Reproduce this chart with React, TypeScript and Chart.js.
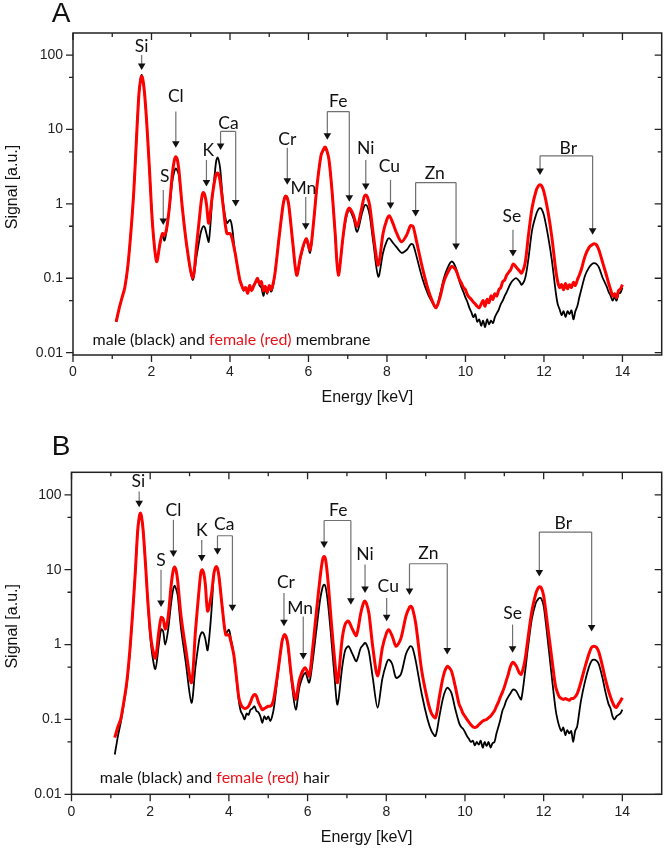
import React, { useEffect, useRef } from 'react';
import { Chart, registerables } from 'chart.js';

Chart.register(...registerables);

// ---------- data (energy grid in keV, signal in a.u.) ----------
const energies = [
  1.10, 1.18, 1.25, 1.32, 1.40, 1.48, 1.55, 1.62, 1.68, 1.72,
  1.75, 1.78, 1.82, 1.88, 1.95, 2.03, 2.13, 2.22, 2.28, 2.33,
  2.38, 2.45, 2.53, 2.58, 2.62, 2.66, 2.70, 2.78, 2.90, 3.05,
  3.15, 3.25, 3.29, 3.32, 3.36, 3.40, 3.46, 3.55, 3.62, 3.65,
  3.68, 3.71, 3.75, 3.83, 3.92, 4.00, 4.05, 4.13,
  4.25, 4.30, 4.35, 4.40, 4.45, 4.50, 4.55, 4.60, 4.65, 4.70,
  4.75, 4.80, 4.85, 4.90, 4.95, 5.00, 5.05, 5.10, 5.15,
  5.25, 5.35, 5.39, 5.42, 5.46, 5.50, 5.60, 5.70, 5.80,
  5.94, 6.04, 6.12, 6.22, 6.32, 6.38, 6.42, 6.46, 6.52, 6.60, 6.68, 6.76,
  6.88, 6.96, 7.04, 7.14, 7.24, 7.35, 7.42, 7.46, 7.50, 7.56, 7.66, 7.78,
  7.90, 8.00, 8.06, 8.15, 8.25, 8.37, 8.50, 8.59, 8.63, 8.67, 8.75, 8.90,
  9.05, 9.15, 9.25, 9.35, 9.45, 9.55, 9.65, 9.75,
  9.85, 9.90, 9.95, 10.00, 10.05, 10.10, 10.15, 10.20, 10.25, 10.30,
  10.35, 10.40, 10.45, 10.50, 10.55, 10.60, 10.65, 10.70, 10.75, 10.80,
  10.85, 10.90, 10.95, 11.00, 11.05, 11.10,
  11.15, 11.22, 11.30, 11.38, 11.43, 11.52, 11.60, 11.70, 11.80, 11.86, 11.90, 11.94, 12.00, 12.10, 12.20,
  12.30, 12.35, 12.40, 12.45, 12.50, 12.55, 12.60, 12.65, 12.70, 12.75, 12.80, 12.85, 12.90, 12.95,
  13.05, 13.15, 13.22, 13.28, 13.34, 13.40,
  13.50, 13.55, 13.60, 13.65, 13.70, 13.75, 13.80, 13.85, 13.90, 13.95, 14.00,
];

const membraneFemale = [
  0.026, 0.04, 0.055, 0.075, 0.15, 0.45, 1.5, 8, 30, 46,
  52, 47, 32, 12, 2.8, 0.5, 0.168, 0.3, 0.40, 0.38,
  0.45, 0.85, 2.5, 3.8, 4.3, 3.9, 2.8, 0.95, 0.27, 0.10,
  0.28, 0.9, 1.3, 1.42, 1.3, 1.0, 0.55, 1.3, 2.2, 2.5,
  2.6, 2.5, 2.0, 0.9, 0.4, 0.40, 0.35, 0.22,
  0.095, 0.08, 0.07, 0.075, 0.063, 0.08, 0.068, 0.078, 0.088, 0.1,
  0.085, 0.09, 0.068, 0.078, 0.065, 0.08, 0.07, 0.085, 0.12,
  0.35, 0.95, 1.2, 1.28, 1.2, 0.95, 0.3, 0.11, 0.2,
  0.34, 0.24, 0.5, 1.8, 4.5, 5.4, 5.8, 5.4, 4.0, 1.5, 0.4, 0.11,
  0.36, 0.7, 0.88, 0.72, 0.50, 0.85, 1.25, 1.32, 1.25, 0.95, 0.36, 0.15,
  0.4, 0.62, 0.69, 0.55, 0.4, 0.31, 0.38, 0.5, 0.51, 0.49, 0.32, 0.14,
  0.07, 0.05, 0.040, 0.055, 0.09, 0.12, 0.144, 0.13,
  0.095, 0.085, 0.075, 0.07, 0.06, 0.055, 0.052, 0.048, 0.045, 0.042,
  0.04, 0.045, 0.05, 0.042, 0.052, 0.047, 0.058, 0.052, 0.062, 0.058,
  0.07, 0.075, 0.09, 0.095, 0.11, 0.12,
  0.13, 0.156, 0.14, 0.125, 0.117, 0.16, 0.36, 0.9, 1.5, 1.75, 1.8, 1.75, 1.45, 0.8, 0.36,
  0.13, 0.09, 0.075, 0.082, 0.07, 0.085, 0.072, 0.082, 0.075, 0.088, 0.08, 0.095, 0.11, 0.13,
  0.2, 0.26, 0.28, 0.29, 0.28, 0.24,
  0.16, 0.13, 0.106, 0.085, 0.07, 0.058, 0.062, 0.055, 0.068, 0.072, 0.082,
];

const membraneMale = [
  0.026, 0.04, 0.055, 0.075, 0.15, 0.45, 1.5, 8, 30, 47,
  54, 48, 32, 12, 2.8, 0.5, 0.17, 0.3, 0.38, 0.32,
  0.42, 0.8, 2.0, 2.7, 3.0, 2.8, 2.4, 0.95, 0.27, 0.095,
  0.2, 0.4, 0.47, 0.50, 0.48, 0.40, 0.31, 1.2, 2.8, 3.8,
  4.2, 3.9, 3.0, 1.0, 0.55, 0.61, 0.5, 0.22,
  0.095, 0.078, 0.068, 0.072, 0.065, 0.076, 0.07, 0.08, 0.09, 0.098,
  0.08, 0.075, 0.058, 0.072, 0.062, 0.076, 0.066, 0.08, 0.12,
  0.35, 0.95, 1.2, 1.28, 1.2, 0.95, 0.3, 0.11, 0.19,
  0.33, 0.22, 0.5, 1.8, 4.5, 5.2, 5.6, 5.2, 4.0, 1.5, 0.4, 0.11,
  0.35, 0.65, 0.82, 0.65, 0.42, 0.7, 0.93, 0.97, 0.92, 0.7, 0.28, 0.105,
  0.22, 0.32, 0.345, 0.30, 0.26, 0.22, 0.24, 0.28, 0.29, 0.28, 0.2, 0.1,
  0.06, 0.048, 0.04, 0.06, 0.1, 0.14, 0.168, 0.14,
  0.09, 0.075, 0.065, 0.055, 0.048, 0.04, 0.035, 0.03, 0.033, 0.026,
  0.028, 0.023, 0.027, 0.022, 0.028, 0.024, 0.027, 0.025, 0.03, 0.034,
  0.038, 0.045, 0.05, 0.058, 0.065, 0.075,
  0.085, 0.095, 0.1, 0.09, 0.082, 0.1, 0.177, 0.45, 0.72, 0.85, 0.875, 0.85, 0.7, 0.38, 0.177,
  0.065, 0.045, 0.038, 0.032, 0.036, 0.03, 0.036, 0.033, 0.037, 0.028, 0.036, 0.042, 0.055, 0.07,
  0.11, 0.14, 0.155, 0.16, 0.155, 0.14,
  0.1, 0.088, 0.077, 0.065, 0.058, 0.05, 0.056, 0.05, 0.062, 0.064, 0.075,
];

const hairFemale = [
  0.057, 0.08, 0.1, 0.16, 0.3, 0.8, 2.5, 9, 32, 50,
  57, 51, 34, 12, 3.2, 1.1, 0.66, 1.5, 2.3, 2.2,
  1.6, 2.2, 6, 9.5, 10.9, 9.7, 7, 2.5, 0.9, 0.31,
  1.5, 6, 9.3, 10, 9, 6.5, 2.8, 4.5, 9, 10.4,
  11, 10.4, 8, 3.2, 1.35, 1.35, 1.1, 0.7,
  0.2, 0.16, 0.145, 0.14, 0.142, 0.15, 0.17, 0.2, 0.215, 0.205,
  0.17, 0.15, 0.135, 0.14, 0.145, 0.15, 0.15, 0.16, 0.2,
  0.45, 1.1, 1.3, 1.36, 1.25, 1.0, 0.34, 0.185, 0.35,
  0.49, 0.38, 0.8, 2.6, 8, 13.5, 15, 13.5, 7, 2.1, 0.7, 0.31,
  1.2, 1.9, 2.05, 1.6, 1.32, 2.6, 3.6, 3.8, 3.5, 2.6, 0.9, 0.38,
  0.9, 1.4, 1.58, 1.3, 0.95, 1.2, 2.4, 3.15, 3.24, 3.0, 1.9, 0.45,
  0.18, 0.12, 0.105, 0.2, 0.38, 0.51, 0.45, 0.28,
  0.16, 0.14, 0.12, 0.11, 0.1, 0.092, 0.085, 0.08, 0.078, 0.08,
  0.085, 0.09, 0.095, 0.098, 0.1, 0.105, 0.11, 0.12, 0.13, 0.15,
  0.17, 0.2, 0.23, 0.27, 0.33, 0.4,
  0.5, 0.58, 0.52, 0.42, 0.4, 0.6, 1.2, 2.8, 4.8, 5.7, 5.9, 5.7, 4.5, 1.8, 0.7,
  0.28, 0.23, 0.2, 0.19, 0.185, 0.19, 0.185, 0.18, 0.19, 0.19, 0.2, 0.22, 0.26, 0.32,
  0.5, 0.75, 0.92, 0.95, 0.92, 0.8,
  0.5, 0.38, 0.3, 0.24, 0.2, 0.17, 0.15, 0.145, 0.16, 0.175, 0.195,
];

const hairMale = [
  0.034, 0.06, 0.09, 0.15, 0.28, 0.75, 2.4, 9, 32, 50,
  57, 51, 34, 12, 3.0, 0.9, 0.47, 1.0, 1.6, 1.5,
  1.0, 1.5, 3.5, 5.3, 6.1, 5.5, 4.5, 1.7, 0.6, 0.167,
  0.5, 1.2, 1.4, 1.46, 1.4, 1.2, 0.84, 2.5, 9, 10.4,
  11, 10.4, 8, 3.2, 1.4, 1.58, 1.2, 0.7,
  0.18, 0.13, 0.115, 0.1, 0.12, 0.115, 0.135, 0.14, 0.15, 0.13,
  0.125, 0.11, 0.09, 0.11, 0.1, 0.11, 0.095, 0.11, 0.15,
  0.42, 1.1, 1.3, 1.36, 1.2, 0.95, 0.3, 0.135, 0.28,
  0.42, 0.31, 0.55, 1.5, 4, 5.8, 6.3, 5.8, 3.5, 1.25, 0.4, 0.158,
  0.5, 0.85, 0.95, 0.75, 0.6, 0.9, 1.0, 1.05, 1.0, 0.8, 0.35, 0.143,
  0.35, 0.55, 0.63, 0.55, 0.36, 0.4, 0.75, 0.93, 0.95, 0.9, 0.6, 0.22,
  0.1, 0.07, 0.06, 0.11, 0.2, 0.265, 0.23, 0.14,
  0.09, 0.08, 0.075, 0.068, 0.06, 0.055, 0.05, 0.052, 0.045, 0.05,
  0.046, 0.052, 0.042, 0.05, 0.044, 0.05, 0.042, 0.048, 0.05, 0.065,
  0.08, 0.1, 0.13, 0.15, 0.18, 0.2,
  0.22, 0.25, 0.24, 0.2, 0.185, 0.4, 0.9, 2.2, 3.6, 4.05, 4.2, 4.1, 3.3, 1.2, 0.4,
  0.14, 0.1, 0.08, 0.07, 0.078, 0.062, 0.072, 0.065, 0.07, 0.05, 0.07, 0.08, 0.12, 0.18,
  0.32, 0.5, 0.61, 0.63, 0.61, 0.55,
  0.35, 0.26, 0.2, 0.16, 0.14, 0.11, 0.1, 0.11, 0.115, 0.12, 0.135,
];

// ---------- axis ticks ----------
const xMajorTicks = [0, 2, 4, 6, 8, 10, 12, 14];
const xMinorTicks = [1, 3, 5, 7, 9, 11, 13];
const yMajorTicks = [0.01, 0.1, 1, 10, 100];
const yTickLabels = ['0.01', '0.1', '1', '10', '100'];
const yMinorTicks = [0.05, 0.5, 5, 50];

// ---------- element markers: label position, arrow start, arrow tips ----------
type Marker = { label: string; at: [number, number]; top: number; tips: [number, number][] };

const membraneMarkers: Marker[] = [
  { label: 'Si', at: [1.75, 130], top: 100, tips: [[1.75, 63]] },
  { label: 'S', at: [2.34, 2.33], top: 1.54, tips: [[2.30, 0.52]] },
  { label: 'Cl', at: [2.62, 28], top: 17.4, tips: [[2.62, 5.7]] },
  { label: 'K', at: [3.45, 5.3], top: 3.9, tips: [[3.40, 1.71]] },
  { label: 'Ca', at: [3.96, 12.2], top: 9.4, tips: [[3.76, 5.3], [4.145, 0.92]] },
  { label: 'Cr', at: [5.46, 7.4], top: 5.66, tips: [[5.46, 1.8]] },
  { label: 'Mn', at: [5.87, 1.63], top: 1.24, tips: [[5.93, 0.45]] },
  { label: 'Fe', at: [6.76, 23.7], top: 17.4, tips: [[6.48, 7.25], [7.04, 1.07]] },
  { label: 'Ni', at: [7.46, 5.6], top: 3.9, tips: [[7.46, 1.54]] },
  { label: 'Cu', at: [8.06, 3.17], top: 2.1, tips: [[8.09, 0.85]] },
  { label: 'Zn', at: [9.22, 2.59], top: 1.93, tips: [[8.73, 0.675], [9.76, 0.24]] },
  { label: 'Se', at: [11.18, 0.675], top: 0.45, tips: [[11.21, 0.196]] },
  { label: 'Br', at: [12.62, 5.6], top: 4.42, tips: [[11.90, 2.45], [13.24, 0.383]] },
];

const hairMarkers: Marker[] = [
  { label: 'Si', at: [1.70, 150], top: 111, tips: [[1.72, 68.5]] },
  { label: 'S', at: [2.275, 13.3], top: 10, tips: [[2.275, 3.18]] },
  { label: 'Cl', at: [2.59, 62], top: 46.4, tips: [[2.59, 14.8]] },
  { label: 'K', at: [3.31, 34], top: 25, tips: [[3.31, 12.9]] },
  { label: 'Ca', at: [3.88, 40], top: 28.4, tips: [[3.71, 15.8], [4.09, 2.78]] },
  { label: 'Cr', at: [5.45, 6.8], top: 4.9, tips: [[5.40, 1.75]] },
  { label: 'Mn', at: [5.81, 3.09], top: 2.38, tips: [[5.89, 0.63]] },
  { label: 'Fe', at: [6.78, 63], top: 45.4, tips: [[6.42, 19.5], [7.10, 3.4]] },
  { label: 'Ni', at: [7.46, 15.8], top: 11.7, tips: [[7.46, 4.9]] },
  { label: 'Cu', at: [8.05, 6.0], top: 4.2, tips: [[8.01, 2.05]] },
  { label: 'Zn', at: [9.07, 16.7], top: 12, tips: [[8.59, 4.6], [9.55, 0.735]] },
  { label: 'Se', at: [11.21, 2.65], top: 1.85, tips: [[11.21, 0.775]] },
  { label: 'Br', at: [12.50, 42], top: 31.8, tips: [[11.89, 8.1], [13.22, 1.5]] },
];

const AXIS_FONT = '"Liberation Sans", Arial, sans-serif';
const LABEL_FONT = 'Lato, "Open Sans", sans-serif';
const RED = '#ff0000';

const decorPlugin = {
  id: 'decor',
  afterDraw(chart: any) {
    const o = chart.options.plugins.decor;
    const { ctx, chartArea: a } = chart;
    const xs = chart.scales.x;
    const ys = chart.scales.y;
    ctx.save();

    // element markers
    for (const m of o.markers as Marker[]) {
      const topY = ys.getPixelForValue(m.top);
      const pts = m.tips.map(([e, v]) => [xs.getPixelForValue(e), ys.getPixelForValue(v)]);
      ctx.strokeStyle = '#707070';
      ctx.lineWidth = 1.2;
      ctx.beginPath();
      if (pts.length === 2) {
        ctx.moveTo(pts[0][0], topY);
        ctx.lineTo(pts[1][0], topY);
      }
      for (const [px, py] of pts) {
        ctx.moveTo(px, topY);
        ctx.lineTo(px, py - 5);
      }
      ctx.stroke();
      ctx.fillStyle = '#111';
      for (const [px, py] of pts) {
        ctx.beginPath();
        ctx.moveTo(px - 3.8, py - 6.5);
        ctx.lineTo(px + 3.8, py - 6.5);
        ctx.lineTo(px, py);
        ctx.closePath();
        ctx.fill();
      }
      ctx.fillStyle = '#111';
      ctx.font = `17.5px ${LABEL_FONT}`;
      ctx.textAlign = 'center';
      ctx.textBaseline = 'middle';
      ctx.fillText(m.label, xs.getPixelForValue(m.at[0]), ys.getPixelForValue(m.at[1]));
    }

    // legend text
    ctx.font = `16px ${LABEL_FONT}`;
    ctx.textAlign = 'left';
    ctx.textBaseline = 'middle';
    let lx = xs.getPixelForValue(o.legendAt[0]);
    const ly = ys.getPixelForValue(o.legendAt[1]);
    const parts: [string, string][] = [
      ['male (black) and ', '#111'],
      ['female (red)', '#e8141c'],
      [' ' + o.sample, '#111'],
    ];
    for (const [t, c] of parts) {
      ctx.fillStyle = c;
      ctx.fillText(t, lx, ly);
      lx += ctx.measureText(t).width;
    }

    // frame
    ctx.strokeStyle = '#222';
    ctx.lineWidth = 1.5;
    ctx.strokeRect(a.left, a.top, a.right - a.left, a.bottom - a.top);
    ctx.lineWidth = 1.3;
    ctx.beginPath();
    const xt = (vals: number[], len: number) => {
      for (const v of vals) {
        const px = xs.getPixelForValue(v);
        ctx.moveTo(px, a.bottom);
        ctx.lineTo(px, a.bottom + len);
        ctx.moveTo(px, a.top);
        ctx.lineTo(px, a.top + len);
      }
    };
    const yt = (vals: number[], len: number) => {
      for (const v of vals) {
        const py = ys.getPixelForValue(v);
        ctx.moveTo(a.left, py);
        ctx.lineTo(a.left - len, py);
        ctx.moveTo(a.right, py);
        ctx.lineTo(a.right - len, py);
      }
    };
    xt(xMajorTicks, 7);
    xt(xMinorTicks, 4);
    yt(yMajorTicks, 7);
    yt(yMinorTicks, 4);
    ctx.stroke();

    // axis titles
    ctx.fillStyle = '#111';
    ctx.font = `16px ${AXIS_FONT}`;
    ctx.textAlign = 'center';
    ctx.textBaseline = 'middle';
    ctx.fillText('Energy [keV]', (a.left + a.right) / 2, a.bottom + 43);
    ctx.save();
    ctx.translate(13, (a.top + a.bottom) / 2 - 7);
    ctx.rotate(-Math.PI / 2);
    ctx.fillText('Signal [a.u.]', 0, 0);
    ctx.restore();

    // panel letter
    ctx.font = `28px ${AXIS_FONT}`;
    ctx.fillText(o.letter, o.letterPos[0], o.letterPos[1]);
    ctx.restore();
  },
};

function makeConfig(p: {
  female: number[];
  male: number[];
  yMin: number;
  yMax: number;
  padTop: number;
  yAxisWidth: number;
  xAxisHeight: number;
  markers: Marker[];
  sample: string;
  legendAt: [number, number];
  letter: string;
  letterPos: [number, number];
}): any {
  const line = {
    pointRadius: 0,
    tension: 0.3,
    cubicInterpolationMode: 'default',
    borderJoinStyle: 'round',
    fill: false,
  };
  return {
    type: 'line',
    data: {
      datasets: [
        {
          label: 'female',
          data: energies.map((e, i) => ({ x: e, y: p.female[i] })),
          borderColor: RED,
          borderWidth: 3,
          ...line,
        },
        {
          label: 'male',
          data: energies.map((e, i) => ({ x: e, y: p.male[i] })),
          borderColor: '#000',
          borderWidth: 1.8,
          ...line,
        },
      ],
    },
    options: {
      responsive: false,
      animation: false,
      layout: { padding: { top: p.padTop, right: 4.3, left: 0, bottom: 0 } },
      plugins: {
        legend: { display: false },
        tooltip: { enabled: false },
        decor: {
          markers: p.markers,
          sample: p.sample,
          legendAt: p.legendAt,
          letter: p.letter,
          letterPos: p.letterPos,
        },
      },
      scales: {
        x: {
          type: 'linear',
          min: 0,
          max: 15,
          afterBuildTicks: (s: any) => {
            s.ticks = xMajorTicks.map((v) => ({ value: v }));
          },
          afterFit: (s: any) => {
            s.height = p.xAxisHeight;
          },
          ticks: {
            autoSkip: false,
            maxRotation: 0,
            padding: 9,
            color: '#222',
            font: { family: AXIS_FONT, size: 14 },
            callback: (v: number) => String(v),
          },
          grid: { display: false, drawTicks: false },
          border: { display: false },
        },
        y: {
          type: 'logarithmic',
          min: p.yMin,
          max: p.yMax,
          afterBuildTicks: (s: any) => {
            s.ticks = yMajorTicks.map((v) => ({ value: v }));
          },
          afterFit: (s: any) => {
            s.width = p.yAxisWidth;
          },
          ticks: {
            autoSkip: false,
            padding: 10,
            color: '#222',
            font: { family: AXIS_FONT, size: 14 },
            callback: (v: number) => {
              const i = yMajorTicks.findIndex((t) => Math.abs(t - v) / t < 1e-6);
              return i >= 0 ? yTickLabels[i] : '';
            },
          },
          grid: { display: false, drawTicks: false },
          border: { display: false },
        },
      },
    },
    plugins: [decorPlugin],
  };
}

export default function App() {
  const refA = useRef<HTMLCanvasElement>(null);
  const refB = useRef<HTMLCanvasElement>(null);

  useEffect(() => {
    const a = new Chart(
      refA.current as HTMLCanvasElement,
      makeConfig({
        female: membraneFemale,
        male: membraneMale,
        yMin: 0.0093,
        yMax: 198,
        padTop: 33,
        yAxisWidth: 73,
        xAxisHeight: 65,
        markers: membraneMarkers,
        sample: 'membrane',
        legendAt: [0.5, 0.0149],
        letter: 'A',
        letterPos: [61, 14],
      })
    );
    const b = new Chart(
      refB.current as HTMLCanvasElement,
      makeConfig({
        female: hairFemale,
        male: hairMale,
        yMin: 0.01,
        yMax: 200,
        padTop: 47.3,
        yAxisWidth: 71.5,
        xAxisHeight: 57.7,
        markers: hairMarkers,
        sample: 'hair',
        legendAt: [0.72, 0.0167],
        letter: 'B',
        letterPos: [61, 22.5],
      })
    );
    return () => {
      a.destroy();
      b.destroy();
    };
  }, []);

  return (
    <div style={{ position: 'absolute', left: 0, top: 0, width: 666, height: 852, background: '#fff' }}>
      <canvas ref={refA} width={666} height={420} style={{ position: 'absolute', left: 0, top: 0 }} />
      <canvas ref={refB} width={666} height={427} style={{ position: 'absolute', left: 0, top: 425 }} />
    </div>
  );
}
